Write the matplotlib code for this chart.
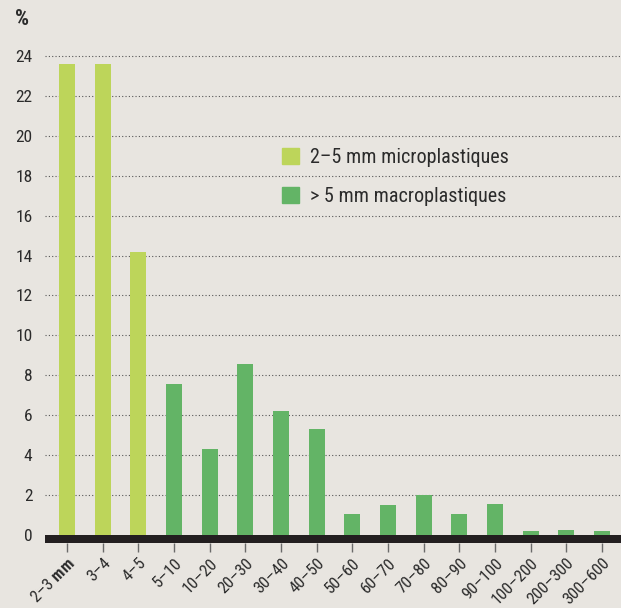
import matplotlib
matplotlib.use('Agg')
from matplotlib import pyplot as plt
from matplotlib.patches import Patch

# Size classes (mm) and share of items (%).
categories = ['2–3', '3–4', '4–5', '5–10', '10–20', '20–30', '30–40', '40–50',
              '50–60', '60–70', '70–80', '80–90', '90–100', '100–200', '200–300', '300–600']
values = [23.6, 23.6, 14.2, 7.55, 4.3, 8.55, 6.2, 5.3,
          1.05, 1.5, 2.0, 1.05, 1.55, 0.2, 0.25, 0.2]
n_micro = 3
yticks = list(range(0, 25, 2))
legend_labels = ['2–5 mm microplastiques', '> 5 mm macroplastiques']

BG = '#e8e5e0'
LIGHT = '#bdd55a'
GREEN = '#63b466'
TEXT = '#2b2b2b'

FONT = 'Roboto Condensed'
plt.rcParams['font.family'] = [FONT, 'DejaVu Sans']
plt.rcParams['mathtext.fontset'] = 'custom'
plt.rcParams['mathtext.rm'] = FONT
plt.rcParams['mathtext.bf'] = FONT + ':bold'

fig = plt.figure(figsize=(6.21, 6.08), dpi=100, facecolor=BG)
ax = fig.add_axes([45 / 621, 1 - 543 / 608, 1 - 45 / 621, (543 - 36) / 608])
ax.set_facecolor(BG)

x = list(range(len(categories)))
colors = [LIGHT if i < n_micro else GREEN for i in x]
ax.bar(x, values, width=0.45, color=colors, zorder=2)

ax.set_xlim(-0.62, len(categories) - 1 + 0.53)
ax.set_ylim(-0.4, 25)
ax.set_yticks(yticks)
ax.set_yticklabels([str(v) for v in yticks], fontsize=12.5, color=TEXT)
for v in yticks[1:]:
    ax.axhline(v, color='#555555', lw=0.8, ls=(0, (1, 2)), zorder=1)

# thick black baseline under the bars
ax.axhspan(-0.4, 0, color='#231f20', zorder=3, lw=0)

for s in ax.spines.values():
    s.set_visible(False)
ax.tick_params(axis='y', length=0, pad=9)
ax.tick_params(axis='x', length=6.5, width=1, color='#6a6a6a', pad=2.5)
ax.set_xticks(x)
ax.set_xticklabels(['2–3 $\\bf{mm}$'] + categories[1:], rotation=45, ha='right', va='top',
                   rotation_mode='anchor', fontsize=12, color=TEXT)

fig.text(15 / 621, 1 - 19 / 608, '%', fontsize=16, fontweight='bold', color=TEXT,
         va='center', ha='left')

handles = [Patch(color=LIGHT), Patch(color=GREEN)]
ax.legend(handles, legend_labels, loc='upper left', bbox_to_anchor=(0.38, 0.814),
          frameon=False, fontsize=14.5, handlelength=0.85, handleheight=0.85,
          handletextpad=0.55, labelspacing=0.95, labelcolor=TEXT)

fig.savefig('out.png', dpi=100, facecolor=BG)
